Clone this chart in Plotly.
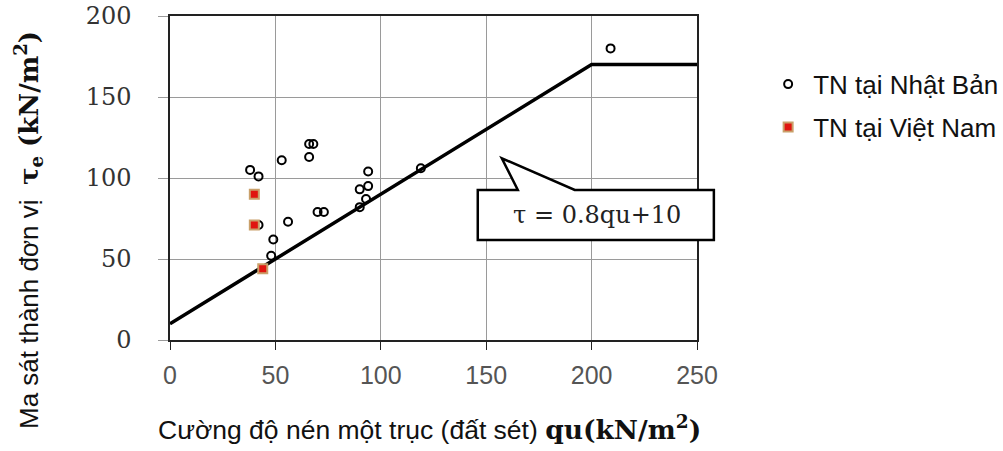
import plotly.graph_objects as go

# Japanese test data (qu, tau)
jp_qu = [38, 42, 53, 66, 68, 66, 94, 94, 90, 93, 90, 70, 73, 56, 42, 49, 48, 209, 119]
jp_tau = [105, 101, 111, 121, 121, 113, 104, 95, 93, 87, 82, 79, 79, 73, 71, 62, 52, 180, 106]
# Vietnamese test data
vn_qu = [40, 40, 44]
vn_tau = [90, 71, 44]
# design line tau = 0.8 qu + 10, capped at 170
line_qu = [0, 200, 250]
line_tau = [10, 170, 170]

x_ticks = [0, 50, 100, 150, 200, 250]
y_ticks = [0, 50, 100, 150, 200]
XR = [0, 250]
YR = [0, 200]

# callout (data coordinates)
box_x = [146, 258]
box_y = [61.7, 92.6]
tip = (157.4, 112.2)
base_x = [165, 192]
label_pos = (202.5, 77)


def px(x):
    return (x - XR[0]) / (XR[1] - XR[0])


def py(y):
    return (y - YR[0]) / (YR[1] - YR[0])


fig = go.Figure()
fig.add_trace(go.Scatter(x=line_qu, y=line_tau, mode="lines",
                         line=dict(color="black", width=3.5), showlegend=False,
                         hoverinfo="skip"))
fig.add_trace(go.Scatter(x=jp_qu, y=jp_tau, mode="markers", name="TN tại Nhật Bản",
                         legendgroup="a",
                         marker=dict(symbol="circle-open", size=8, color="black",
                                     line=dict(width=2, color="black"))))
fig.add_trace(go.Scatter(x=vn_qu, y=vn_tau, mode="markers", name="TN tại Việt Nam",
                         legendgroup="b",
                         marker=dict(symbol="square", size=9, color="#e0150f",
                                     line=dict(width=2, color="#c9a06a"))))

path = (f"M {px(box_x[0])},{py(box_y[0])} L {px(box_x[0])},{py(box_y[1])} "
        f"L {px(base_x[0])},{py(box_y[1])} L {px(tip[0])},{py(tip[1])} "
        f"L {px(base_x[1])},{py(box_y[1])} L {px(box_x[1])},{py(box_y[1])} "
        f"L {px(box_x[1])},{py(box_y[0])} Z")
fig.add_shape(type="path", path=path, xref="paper", yref="paper",
              fillcolor="white", line=dict(color="black", width=2.5), layer="above")

fig.add_annotation(x=px(label_pos[0]), y=py(label_pos[1]),
                   xref="paper", yref="paper", showarrow=False,
                   xanchor="center", yanchor="middle",
                   text="τ = 0.8qu+10",
                   font=dict(family="DejaVu Serif", size=24, color="#222"))

serif = "font-family:'DejaVu Serif'"
fig.add_annotation(x=-0.2694, y=0.3395, xref="paper", yref="paper", showarrow=False,
                   xanchor="center", yanchor="middle",
                   textangle=-90,
                   text=("Ma sát thành đơn vị &nbsp;"
                         f"<span style=\"{serif}\"><b>τ<sub>e</sub> (kN/m<sup>2</sup>)</b></span>"),
                   font=dict(family="Liberation Sans", size=26, color="#111"))
fig.add_annotation(x=0.4915, y=-0.2716, xref="paper", yref="paper", showarrow=False,
                   xanchor="center", yanchor="middle",
                   text=("Cường độ nén một trục (đất sét) "
                         f"<span style=\"{serif}\"><b>qu(kN/m<sup>2</sup>)</b></span>"),
                   font=dict(family="Liberation Sans", size=26.5, color="#111"))

fig.update_layout(
    width=1003, height=451,
    margin=dict(l=170, r=306, t=16, b=111, autoexpand=False),
    plot_bgcolor="white", paper_bgcolor="white",
    showlegend=True,
    legend=dict(x=1.1255, y=0.862, xanchor="left", yanchor="top",
                font=dict(family="Liberation Sans", size=26, color="#111"),
                itemwidth=40, tracegroupgap=6, bgcolor="rgba(0,0,0,0)"),
)
fig.update_xaxes(range=XR, tickvals=x_ticks, showgrid=True, gridcolor="#9a9a9a",
                 gridwidth=1, showline=True, linecolor="#222", linewidth=1.5,
                 mirror=True, ticks="outside", ticklen=8, tickcolor="#222",
                 ticklabelstandoff=4, zeroline=False, automargin=False,
                 tickfont=dict(family="Liberation Sans", size=25, color="#555"))
fig.update_yaxes(range=YR, tickvals=y_ticks, showgrid=True, gridcolor="#9a9a9a",
                 gridwidth=1, showline=True, linecolor="#222", linewidth=1.5,
                 mirror=True, ticks="outside", ticklen=10, tickcolor="#9a9a9a",
                 ticklabelstandoff=22, zeroline=False, automargin=False,
                 tickfont=dict(family="DejaVu Serif", size=24, color="#333"))

# remove the default 8px page margin so the figure fills the window exactly
fig.write_html("out.html", config={"displayModeBar": False},
               post_script="document.body.style.margin='0';")
